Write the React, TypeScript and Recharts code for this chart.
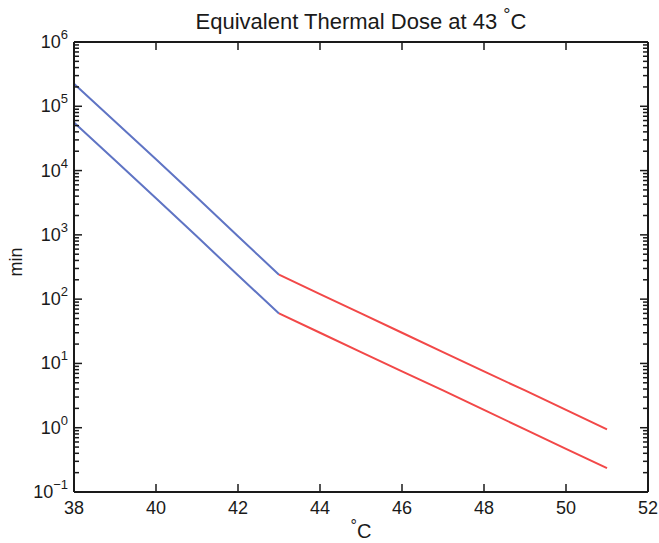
import { LineChart, Line, XAxis, YAxis } from 'recharts';

// temperatures (°C) and equivalent minutes
const temps = [38, 39, 40, 41, 42, 43, 44, 45, 46, 47, 48, 49, 50, 51];
const upperBlue = [225000, 58000, 15000, 3800, 950, 240, null, null, null, null, null, null, null, null];
const lowerBlue = [56000, 14500, 3700, 940, 235, 60, null, null, null, null, null, null, null, null];
const upperRed = [null, null, null, null, null, 240, 120, 60, 30, 15, 7.5, 3.8, 1.9, 0.94];
const lowerRed = [null, null, null, null, null, 60, 30, 15, 7.5, 3.8, 1.9, 0.94, 0.47, 0.235];

const xTicks = [38, 40, 42, 44, 46, 48, 50, 52];
const decades = [-1, 0, 1, 2, 3, 4, 5, 6];
const yTicks: number[] = [];
decades.forEach((p) => {
  const base = Math.pow(10, p);
  yTicks.push(base);
  if (p < 6) for (let m = 2; m <= 9; m++) yTicks.push(m * base);
});

const data = temps.map((t, i) => ({
  t,
  ub: upperBlue[i],
  lb: lowerBlue[i],
  ur: upperRed[i],
  lr: lowerRed[i],
}));

const FONT = 'Liberation Sans, Arial, sans-serif';
const INK = '#1a1a1a';
const BLUE = '#5f74c4';
const RED = '#f24848';
const AXIS_LINE = { stroke: INK, strokeWidth: 2 };

const isMajor = (v: number) => Math.abs(Math.log10(v) - Math.round(Math.log10(v))) < 1e-6;

function LeftTick(props: any) {
  const { x, y, payload } = props;
  const v = payload.value as number;
  const major = isMajor(v);
  const p = Math.round(Math.log10(v));
  return (
    <g>
      <line x1={x} x2={x + (major ? 8 : 5)} y1={y} y2={y} stroke={INK} strokeWidth={1.5} />
      {major && (
        <text x={x - 6} y={y} dy={6} textAnchor="end" fontSize={18} fill={INK} fontFamily={FONT}>
          <tspan>10</tspan>
          <tspan dy={-9} fontSize={13}>{p < 0 ? '\u2212' + Math.abs(p) : String(p)}</tspan>
        </text>
      )}
    </g>
  );
}

function RightTick(props: any) {
  const { x, y, payload } = props;
  const w = isMajor(payload.value) ? 8 : 5;
  return <line x1={x} x2={x - w} y1={y} y2={y} stroke={INK} strokeWidth={1.5} />;
}

function BottomTick(props: any) {
  const { x, y, payload } = props;
  return (
    <g>
      <line x1={x} x2={x} y1={y} y2={y - 8} stroke={INK} strokeWidth={1.5} />
      <text x={x} y={y + 22} textAnchor="middle" fontSize={18} fill={INK} fontFamily={FONT}>
        {payload.value}
      </text>
    </g>
  );
}

function TopTick(props: any) {
  const { x, y } = props;
  return <line x1={x} x2={x} y1={y} y2={y + 8} stroke={INK} strokeWidth={1.5} />;
}

export default function App() {
  return (
    <div style={{ position: 'absolute', left: 0, top: 0, width: 659, height: 543, background: '#fff' }}>
      <LineChart width={659} height={543} data={data} margin={{ top: 41, right: 10, bottom: 21, left: 10 }}>
        <XAxis
          xAxisId="b"
          dataKey="t"
          type="number"
          domain={[38, 52]}
          ticks={xTicks}
          height={30}
          tickSize={0}
          tickMargin={0}
          tick={<BottomTick />}
          axisLine={AXIS_LINE}
        />
        <XAxis
          xAxisId="top"
          orientation="top"
          dataKey="t"
          type="number"
          domain={[38, 52]}
          ticks={xTicks}
          height={1}
          tickSize={0}
          tickMargin={0}
          tick={<TopTick />}
          axisLine={AXIS_LINE}
        />
        <YAxis
          yAxisId="l"
          scale="log"
          type="number"
          domain={[0.1, 1000000]}
          ticks={yTicks}
          allowDataOverflow
          width={64}
          tickSize={0}
          tickMargin={0}
          tick={<LeftTick />}
          interval={0}
          axisLine={AXIS_LINE}
        />
        <YAxis
          yAxisId="r"
          orientation="right"
          scale="log"
          type="number"
          domain={[0.1, 1000000]}
          ticks={yTicks}
          allowDataOverflow
          width={1}
          tickSize={0}
          tickMargin={0}
          tick={<RightTick />}
          interval={0}
          axisLine={AXIS_LINE}
        />
        <Line xAxisId="b" yAxisId="l" dataKey="ub" stroke={BLUE} strokeWidth={2} dot={false} isAnimationActive={false} connectNulls={false} />
        <Line xAxisId="b" yAxisId="l" dataKey="lb" stroke={BLUE} strokeWidth={2} dot={false} isAnimationActive={false} connectNulls={false} />
        <Line xAxisId="b" yAxisId="l" dataKey="ur" stroke={RED} strokeWidth={2} dot={false} isAnimationActive={false} connectNulls={false} />
        <Line xAxisId="b" yAxisId="l" dataKey="lr" stroke={RED} strokeWidth={2} dot={false} isAnimationActive={false} connectNulls={false} />
        <text x={361} y={29} textAnchor="middle" fontSize={22} fill={INK} fontFamily={FONT}>
          <tspan>Equivalent Thermal Dose at 43 </tspan>
          <tspan dy={-8} fontSize={18}>°</tspan>
          <tspan dy={8}>C</tspan>
        </text>
        <text x={361} y={538} textAnchor="middle" fontSize={20} fill={INK} fontFamily={FONT}>
          <tspan dy={-7} fontSize={16}>°</tspan>
          <tspan dy={7}>C</tspan>
        </text>
        <text x={22} y={262} textAnchor="middle" fontSize={18} fill={INK} fontFamily={FONT} transform="rotate(-90 22 262)">
          min
        </text>
      </LineChart>
    </div>
  );
}
